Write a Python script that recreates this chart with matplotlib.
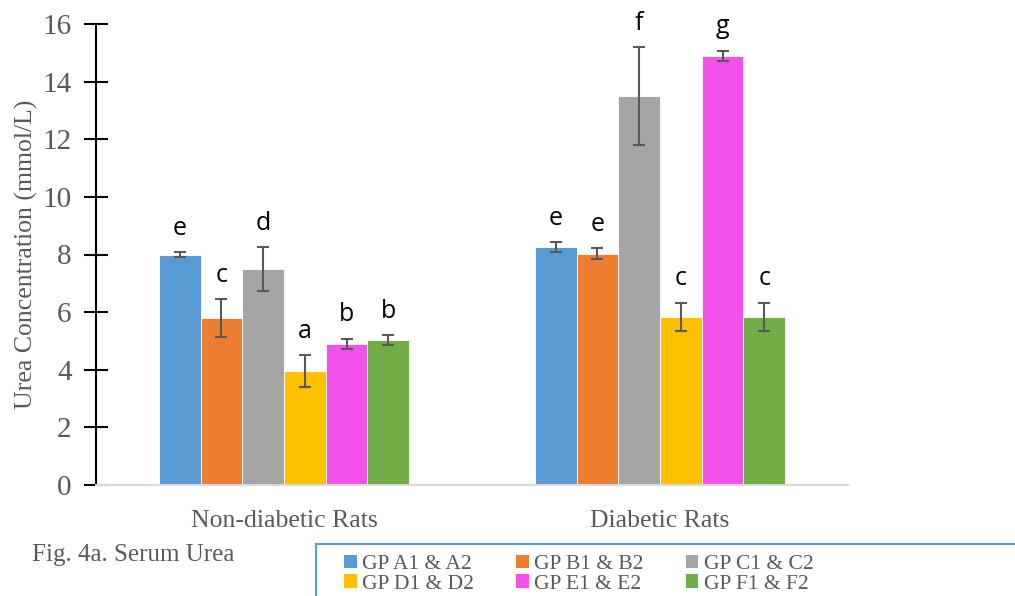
import numpy as np
import matplotlib
matplotlib.use("Agg")
import matplotlib.pyplot as plt
from matplotlib.patches import Rectangle, Patch

groups = ["Non-diabetic Rats", "Diabetic Rats"]
series = ["GP A1 & A2", "GP B1 & B2", "GP C1 & C2", "GP D1 & D2", "GP E1 & E2", "GP F1 & F2"]
colors = ["#5B9BD5", "#ED7D31", "#A5A5A5", "#FFC000", "#F252EA", "#70AD47"]

# rows = series, cols = groups
means = [[8.00, 8.25],
         [5.80, 8.02],
         [7.50, 13.50],
         [3.95, 5.83],
         [4.90, 14.90],
         [5.03, 5.83]]
errs = [[0.08, 0.18],
        [0.65, 0.19],
        [0.76, 1.70],
        [0.55, 0.50],
        [0.18, 0.18],
        [0.17, 0.50]]
letters = [["e", "e"],
           ["c", "e"],
           ["d", "f"],
           ["a", "c"],
           ["b", "g"],
           ["b", "c"]]

serif = "Liberation Serif"
gray_txt = "#595959"

fig = plt.figure(figsize=(10.15, 5.96), dpi=100)
ax = fig.add_axes([96/1015, 1-485/596, 752/1015, 461/596])

x = np.arange(len(groups))
w = 0.111
for i in range(len(series)):
    pos = x + (i - 2.5) * w
    ax.bar(pos, means[i], w, color=colors[i], edgecolor="white", linewidth=0.6,
           yerr=errs[i], ecolor="#595959", capsize=4.5,
           error_kw=dict(elinewidth=1.5, capthick=1.5), zorder=2)
    for j in range(len(groups)):
        ax.text(pos[j], means[i][j] + errs[i][j] + 0.6, letters[i][j],
                ha="center", va="baseline", fontsize=18, family="Open Sans", color="black")

ax.set_xlim(-0.5, 1.5)
ax.set_ylim(0, 16)
ax.set_yticks(range(0, 17, 2))
ax.set_xticks(x)
ax.set_xticklabels(groups, family=serif, fontsize=18.5, color=gray_txt)
ax.tick_params(axis="x", length=0, pad=18)
ax.tick_params(axis="y", direction="inout", length=17, width=1.5, labelsize=21,
               labelcolor=gray_txt, pad=9)
for lab in ax.get_yticklabels():
    lab.set_family(serif)
ax.set_ylabel("Urea Concentration (mmol/L)", family=serif, fontsize=18.5, color=gray_txt, labelpad=3)

for s in ["top", "right"]:
    ax.spines[s].set_visible(False)
ax.spines["left"].set_linewidth(1.5)
ax.spines["left"].set_color("black")
ax.spines["bottom"].set_color("#D9D9D9")
ax.spines["bottom"].set_linewidth(1.5)

fig.text(32/1015, 1-555/596, "Fig. 4a. Serum Urea", family=serif, fontsize=18,
         color=gray_txt, va="center")

# legend box, cut off by the figure edge
fig.patches.append(Rectangle((316/1015, -0.2), 1.0, 0.2 + (1-544/596),
                             transform=fig.transFigure, fill=False,
                             edgecolor="#5B9BD5", linewidth=1.5))
order = [0, 3, 1, 4, 2, 5]
handles = [Patch(facecolor=colors[k]) for k in order]
labels = [series[k] for k in order]
fig.legend(handles, labels, ncol=3, loc="upper left",
           bbox_to_anchor=(333/1015, 1-544/596), frameon=False,
           prop=dict(family=serif, size=15.5), labelcolor=gray_txt,
           handlelength=0.6, handleheight=0.6, handletextpad=0.25,
           columnspacing=1.95, labelspacing=0.0, borderpad=0.0)

fig.savefig("out.png", dpi=100)
